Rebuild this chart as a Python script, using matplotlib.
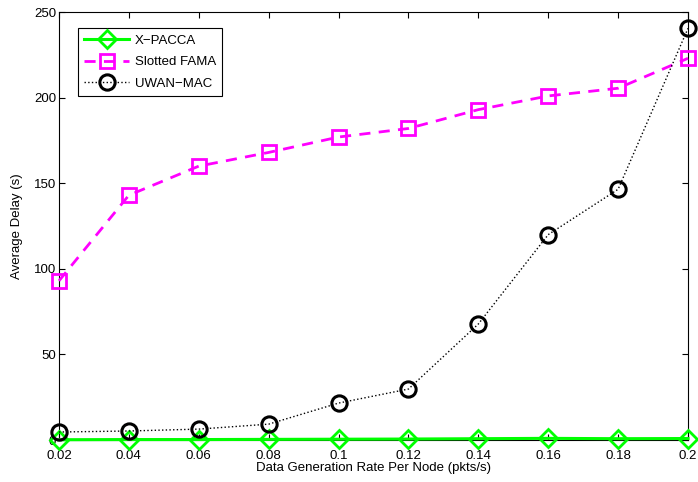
import matplotlib
matplotlib.use("Agg")
import matplotlib.pyplot as plt

plt.rcParams['font.family'] = ['Liberation Sans', 'DejaVu Sans']

# data generation rate (pkts/s) and average delay (s) per protocol
rate = [0.02, 0.04, 0.06, 0.08, 0.1, 0.12, 0.14, 0.16, 0.18, 0.2]
rate_labels = ['0.02', '0.04', '0.06', '0.08', '0.1', '0.12', '0.14', '0.16', '0.18', '0.2']
xpacca = [0.2, 0.3, 0.3, 0.4, 0.5, 0.6, 0.8, 1.0, 0.8, 0.9]
slotted_fama = [93, 143, 160, 168, 177, 182, 193, 201, 205.5, 223]
uwan_mac = [4.7, 5.3, 6.4, 9.3, 21.6, 29.8, 67.8, 120, 146.5, 240.5]

FS = 9.5

fig = plt.figure(figsize=(6.98, 4.82), dpi=100)
ax = fig.add_axes([0.0845, 0.087, 0.9012, 0.888])

ax.plot(rate, xpacca, color='#00ff00', linestyle='-', linewidth=2.2,
        marker='D', markersize=9.5, markerfacecolor='none',
        markeredgewidth=2, label='X\u2212PACCA', clip_on=False, zorder=3)
ax.plot(rate, slotted_fama, color='#ff00ff', linestyle='--', linewidth=2,
        dashes=(4, 3), marker='s', markersize=10, markerfacecolor='none',
        markeredgewidth=2, label='Slotted FAMA', clip_on=False, zorder=3)
ax.plot(rate, uwan_mac, color='black', linestyle=':', linewidth=1,
        marker='o', markersize=11, markerfacecolor='none',
        markeredgewidth=2.2, label='UWAN\u2212MAC', clip_on=False, zorder=3)

ax.set_xlim(0.02, 0.2)
ax.set_ylim(0, 250)
ax.set_xticks(rate)
ax.set_xticklabels(rate_labels)
ax.set_yticks([0, 50, 100, 150, 200, 250])
ax.tick_params(direction='in', labelsize=FS, length=4)
ax.tick_params(axis='x', pad=7)
ax.tick_params(axis='y', pad=2)
ax.tick_params(top=True, right=True)
for s in ax.spines.values():
    s.set_linewidth(0.8)

ax.set_xlabel('Data Generation Rate Per Node (pkts/s)', fontsize=FS, labelpad=0.5)
ax.set_ylabel('Average Delay (s)', fontsize=FS, labelpad=8)

leg = ax.legend(loc='upper left', bbox_to_anchor=(0.03, 0.963), fontsize=FS,
                handlelength=3.4, handletextpad=0.4, borderpad=0.5,
                labelspacing=0.7, borderaxespad=0, fancybox=False,
                framealpha=1, edgecolor='black')
leg.get_frame().set_linewidth(0.8)

fig.savefig('out.png', dpi=100)
